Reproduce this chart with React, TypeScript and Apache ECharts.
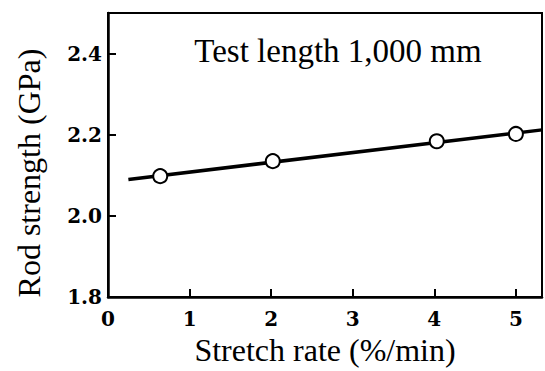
import React, { useEffect, useRef } from "react";
import * as echarts from "echarts";

const stretchRate = [0.64, 2.02, 4.03, 5.0];
const rodStrength = [2.098, 2.135, 2.184, 2.202];
const fitX = [0.25, 5.32];
const fitY = [2.09, 2.212];
const yTicks = [1.8, 2.0, 2.2, 2.4];
const xTicks = [0, 1, 2, 3, 4, 5];

const FONT = "'Liberation Serif', 'DejaVu Serif', serif";
const TICK_FONT = "'DejaVu Serif', 'Liberation Serif', serif";

export default function App() {
  const ref = useRef<HTMLDivElement>(null);
  useEffect(() => {
    if (!ref.current) return;
    const chart = echarts.init(ref.current, null, { renderer: "svg" });
    chart.setOption({
      animation: false,
      backgroundColor: "#ffffff",
      grid: {
        left: 108,
        right: -10,
        top: 13,
        bottom: 69,
        show: true,
        borderColor: "#000",
        borderWidth: 2,
        backgroundColor: "transparent",
      },
      xAxis: {
        type: "value",
        min: 0,
        max: 5.32,
        interval: 1,
        name: "Stretch rate (%/min)",
        nameLocation: "middle",
        nameGap: 36,
        nameTextStyle: { fontFamily: FONT, fontSize: 32, color: "#000" },
        axisLine: { show: true, onZero: false, lineStyle: { color: "#000", width: 2.5 } },
        axisTick: { show: true, inside: true, length: 8, lineStyle: { color: "#000", width: 2 } },
        axisLabel: {
          fontFamily: TICK_FONT,
          fontSize: 20,
          fontWeight: "bold",
          color: "#000",
          margin: 12,
          formatter: (v: number) => (xTicks.includes(v) ? String(v) : ""),
        },
        splitLine: { show: false },
      },
      yAxis: {
        type: "value",
        min: 1.8,
        max: 2.5,
        interval: 0.2,
        axisLine: { show: true, onZero: false, lineStyle: { color: "#000", width: 2.5 } },
        axisTick: { show: true, inside: true, length: 8, lineStyle: { color: "#000", width: 2 } },
        axisLabel: {
          fontFamily: TICK_FONT,
          fontSize: 20,
          fontWeight: "bold",
          color: "#000",
          margin: 6,
          formatter: (v: number) => {
            const t = yTicks.find((k) => Math.abs(k - v) < 1e-6);
            return t !== undefined ? t.toFixed(1) : "";
          },
        },
        splitLine: { show: false },
      },
      graphic: [
        {
          type: "text",
          x: 338,
          y: 51,
          style: {
            text: "Test length 1,000 mm",
            font: `33px ${FONT}`,
            fill: "#000",
            align: "center",
            verticalAlign: "middle",
          },
        },
        {
          type: "text",
          x: 29,
          y: 173,
          rotation: Math.PI / 2,
          style: {
            text: "Rod strength (GPa)",
            font: `32px ${FONT}`,
            fill: "#000",
            align: "center",
            verticalAlign: "middle",
          },
        },
      ],
      series: [
        {
          type: "line",
          data: fitX.map((x, i) => [x, fitY[i]]),
          showSymbol: false,
          lineStyle: { color: "#000", width: 3.5 },
          z: 2,
        },
        {
          type: "scatter",
          data: stretchRate.map((x, i) => [x, rodStrength[i]]),
          symbol: "circle",
          symbolSize: 14,
          itemStyle: { color: "#fff", borderColor: "#000", borderWidth: 2, opacity: 1 },
          z: 3,
        },
      ],
    });
    return () => chart.dispose();
  }, []);
  return (
    <div
      ref={ref}
      style={{ position: "fixed", left: 0, top: 0, width: 545, height: 371 }}
    />
  );
}
